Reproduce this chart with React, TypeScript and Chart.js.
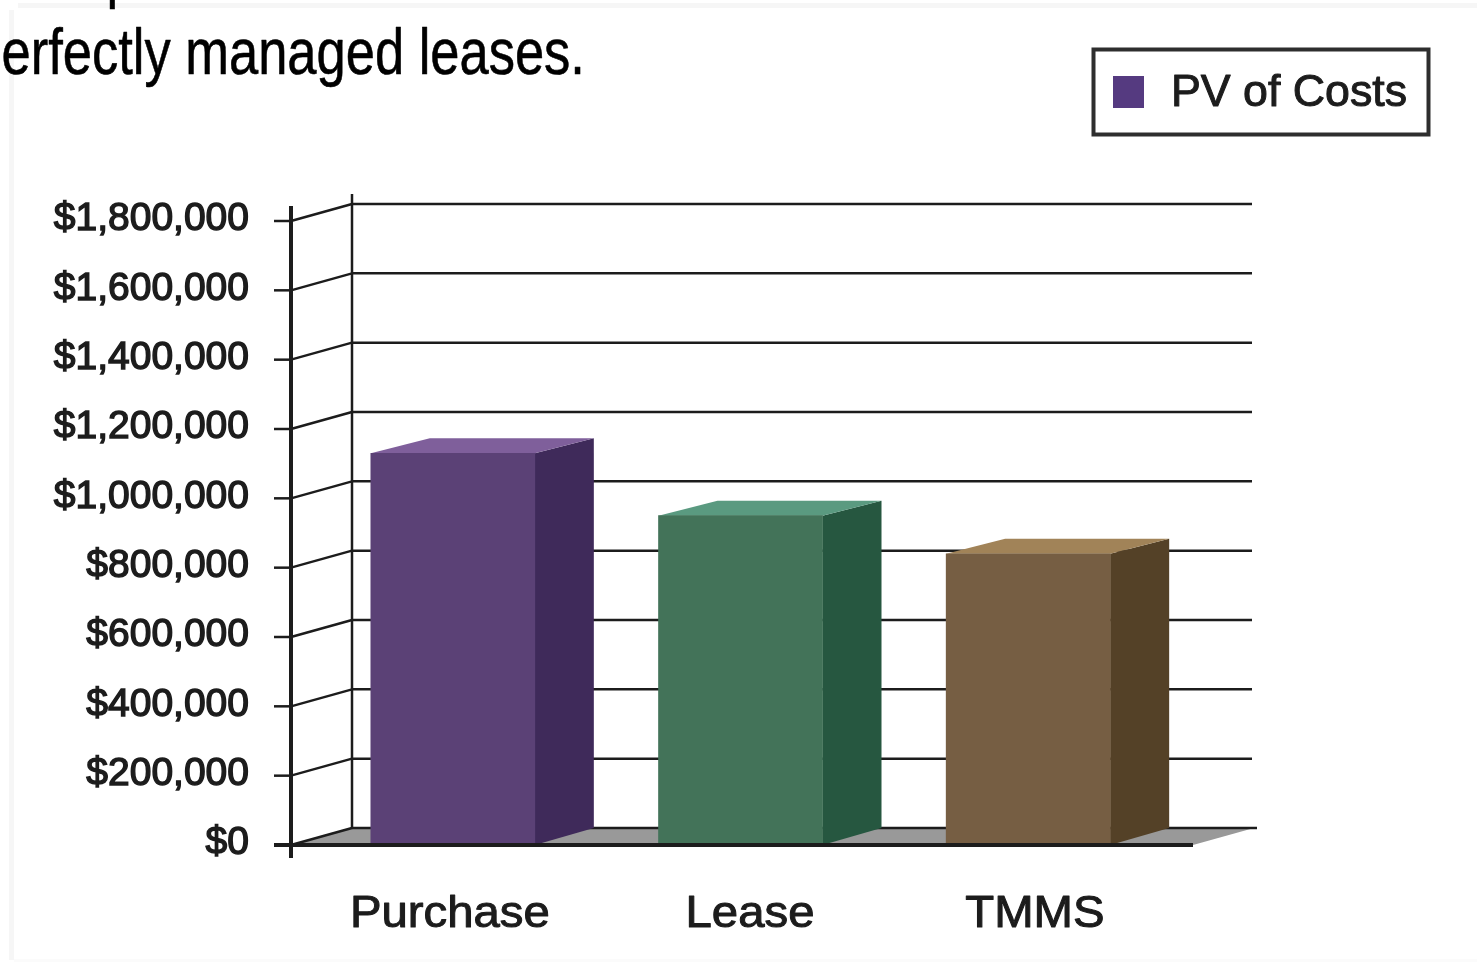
import React, { useEffect, useRef } from "react";
import { Chart, registerables } from "chart.js";

Chart.register(...registerables);

const categories = ["Purchase", "Lease", "TMMS"];
const pvOfCosts = [1130000, 950000, 840000];
const seriesName = "PV of Costs";
const frontColors = ["#5B4176", "#437359", "#765E43"];
const sideColors = ["#3F2A5A", "#265740", "#544127"];
const topColors = ["#7F5F9B", "#5A9A80", "#A18358"];
const categoryLabelNudge = [-3, 9.5, 6.7];
const captionLine = "erfectly managed leases.";
const captionAbove = "p";

const INK = "#1C1C1C";
const SANS = '"Liberation Sans", Arial, sans-serif';

// Offset of the back wall relative to the front plane of the pseudo-3D plot.
const DEPTH_X = 61;
const DEPTH_Y = -17;
const BAR_DEPTH_X = 59;
const BAR_DEPTH_Y = -15;

function line(ctx: CanvasRenderingContext2D, x0: number, y0: number, x1: number, y1: number, width: number, color = INK) {
  ctx.strokeStyle = color;
  ctx.lineWidth = width;
  ctx.beginPath();
  ctx.moveTo(x0, y0);
  ctx.lineTo(x1, y1);
  ctx.stroke();
}

function poly(ctx: CanvasRenderingContext2D, pts: number[][], fill: string) {
  ctx.fillStyle = fill;
  ctx.beginPath();
  pts.forEach(([x, y], i) => (i ? ctx.lineTo(x, y) : ctx.moveTo(x, y)));
  ctx.closePath();
  ctx.fill();
}

// Text stretched horizontally, with a thin outline to give it a medium weight.
function stretchedText(
  ctx: CanvasRenderingContext2D,
  text: string,
  x: number,
  y: number,
  scaleX: number,
  outline: number,
) {
  ctx.save();
  ctx.translate(x, y);
  ctx.scale(scaleX, 1);
  ctx.fillText(text, 0, 0);
  if (outline > 0) {
    ctx.lineWidth = outline;
    ctx.strokeStyle = ctx.fillStyle;
    ctx.lineJoin = "round";
    ctx.strokeText(text, 0, 0);
  }
  ctx.restore();
}

// Frame, caption, floor, back wall, gridlines and the hidden faces of each bar.
const backdrop = {
  id: "backdrop",
  beforeDatasetsDraw(chart: any) {
    const { ctx, scales } = chart;
    const y = scales.y;
    const x = scales.x;
    const frontX = x.left - 18;
    const frontRight = x.right + 21;
    const backX = frontX + DEPTH_X;
    const baseY = y.bottom;
    const backBase = baseY + DEPTH_Y;
    ctx.save();

    ctx.fillStyle = "#F6F6F6";
    ctx.fillRect(18, 3, 1459, 5);
    ctx.fillRect(9, 10, 5, 950);
    ctx.fillStyle = "#FBFBFB";
    ctx.fillRect(14, 959, 1463, 3);

    ctx.fillStyle = "#000000";
    ctx.textBaseline = "alphabetic";
    ctx.textAlign = "left";
    ctx.font = `64px ${SANS}`;
    stretchedText(ctx, captionLine, 1.5, 74, 0.82, 0.6);
    stretchedText(ctx, captionAbove, 106.5, -4, 0.82, 0.6);

    poly(ctx, [[frontX, baseY], [backX, backBase], [frontRight + DEPTH_X, backBase], [frontRight, baseY]], "#999999");
    line(ctx, backX, backBase, frontRight + DEPTH_X + 3, backBase, 2.5);
    line(ctx, backX, 194, backX, backBase, 2.5);

    y.ticks.forEach((_: any, i: number) => {
      const py = y.getPixelForTick(i);
      line(ctx, frontX - 17, py, frontX, py, 2.5);
      line(ctx, frontX, py, backX, py + DEPTH_Y, 2.5);
      if (i > 0) line(ctx, backX, py + DEPTH_Y, 1252, py + DEPTH_Y, 2.5);
    });

    chart.getDatasetMeta(0).data.forEach((bar: any, i: number) => {
      const x0 = bar.x - bar.width / 2;
      const x1 = bar.x + bar.width / 2;
      const top = bar.y;
      const base = bar.base;
      poly(ctx, [[x1, top], [x1 + BAR_DEPTH_X, top + BAR_DEPTH_Y], [x1 + BAR_DEPTH_X, base + DEPTH_Y], [x1, base]], sideColors[i]);
      poly(ctx, [[x0, top], [x0 + BAR_DEPTH_X, top + BAR_DEPTH_Y], [x1 + BAR_DEPTH_X, top + BAR_DEPTH_Y], [x1, top]], topColors[i]);
    });
    ctx.restore();
  },
  afterDatasetsDraw(chart: any) {
    const { ctx, scales } = chart;
    const y = scales.y;
    const x = scales.x;
    const frontX = x.left - 18;
    ctx.save();
    line(ctx, frontX, 206, frontX, 858, 4);
    line(ctx, frontX - 17, y.bottom, x.right + 21, y.bottom, 4);

    // Category captions below the front edge of the floor.
    ctx.fillStyle = INK;
    ctx.textAlign = "center";
    ctx.textBaseline = "alphabetic";
    ctx.font = `44px ${SANS}`;
    chart.data.labels.forEach((label: string, i: number) => {
      stretchedText(ctx, label, x.getPixelForTick(i) + categoryLabelNudge[i], 927, 1.075, 1);
    });

    // Boxed series key in the upper right corner.
    ctx.strokeStyle = "#2E2E2E";
    ctx.lineWidth = 4;
    ctx.strokeRect(1093.5, 49.5, 335, 85);
    ctx.fillStyle = "#553A80";
    ctx.fillRect(1113, 76, 31, 32);
    ctx.fillStyle = INK;
    ctx.textAlign = "left";
    ctx.font = `44.5px ${SANS}`;
    stretchedText(ctx, chart.data.datasets[0].label, 1171, 106, 1.005, 1);
    ctx.restore();
  },
};

export default function App() {
  const ref = useRef<HTMLCanvasElement | null>(null);

  useEffect(() => {
    if (!ref.current) return;
    const chart = new Chart(ref.current, {
      type: "bar",
      data: {
        labels: categories,
        datasets: [
          {
            label: seriesName,
            data: pvOfCosts,
            backgroundColor: frontColors,
            borderWidth: 0,
            barThickness: 164,
          },
        ],
      },
      options: {
        responsive: false,
        animation: false,
        layout: { padding: { top: 221, right: 305, left: 0, bottom: 0 } },
        plugins: { legend: { display: false }, title: { display: false }, tooltip: { enabled: false } },
        scales: {
          x: {
            grid: { display: false },
            border: { display: false },
            ticks: { display: false },
            afterFit: (s: any) => {
              s.height = 118;
            },
          },
          y: {
            min: 0,
            max: 1800000,
            grid: { display: false },
            border: { display: false },
            afterFit: (s: any) => {
              s.width = 309;
            },
            ticks: {
              stepSize: 200000,
              autoSkip: false,
              padding: 52,
              labelOffset: -1.5,
              color: INK,
              textStrokeColor: INK,
              textStrokeWidth: 1.4,
              font: { family: SANS, size: 39 },
              callback: (v: any) => "$" + Number(v).toLocaleString("en-US"),
            },
          },
        },
      },
      plugins: [backdrop],
    } as any);
    return () => chart.destroy();
  }, []);

  return (
    <canvas
      ref={ref}
      width={1477}
      height={963}
      style={{ position: "absolute", left: 0, top: 0, display: "block", background: "#FFFFFF" }}
    />
  );
}
